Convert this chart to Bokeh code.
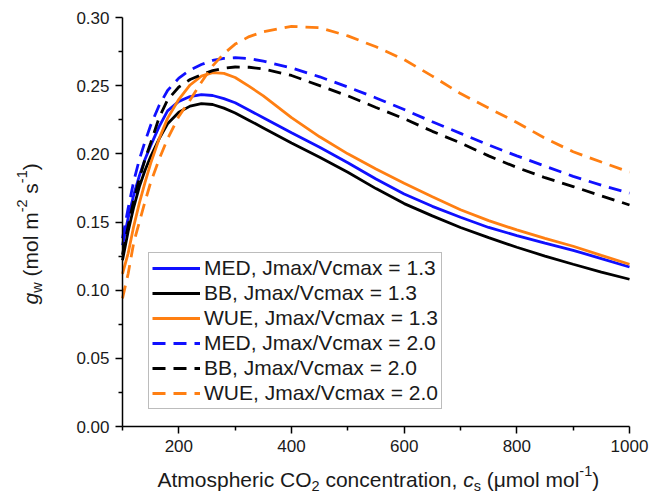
import math
from bokeh.plotting import figure
from bokeh.models import (FixedTicker, PrintfTickFormatter, Label, Legend,
                          LegendItem, Range1d)
from bokeh.embed import file_html
from bokeh.resources import INLINE

# ---------------- data ----------------
cs = [100, 110, 120, 130, 140, 150, 165, 180, 200, 220, 240, 260, 280, 300,
      325, 350, 400, 450, 500, 550, 600, 650, 700, 750, 800, 850, 900, 950, 1000]

med_13 = [0.133, 0.153, 0.170, 0.184, 0.196, 0.206, 0.220, 0.2315, 0.2385, 0.2420,
          0.2434, 0.2428, 0.2405, 0.2375, 0.2320, 0.2265, 0.2155, 0.2048, 0.1935,
          0.1815, 0.1705, 0.1615, 0.1535, 0.1460, 0.1400, 0.1345, 0.1292, 0.1232, 0.1170]
bb_13 = [0.122, 0.143, 0.161, 0.176, 0.188, 0.198, 0.211, 0.222, 0.2305, 0.2350,
         0.2368, 0.2362, 0.2335, 0.2300, 0.2245, 0.2190, 0.2080, 0.1975, 0.1865,
         0.1745, 0.1635, 0.1545, 0.1460, 0.1385, 0.1315, 0.1250, 0.1190, 0.1133, 0.1080]
wue_13 = [0.112, 0.127, 0.147, 0.164, 0.179, 0.193, 0.211, 0.226, 0.240, 0.2505,
          0.2570, 0.2596, 0.2590, 0.2560, 0.2495, 0.2425, 0.2265, 0.2125, 0.2000,
          0.1888, 0.1785, 0.1685, 0.1590, 0.1510, 0.1442, 0.1380, 0.1322, 0.1255, 0.1190]
med_20 = [0.138, 0.160, 0.180, 0.196, 0.209, 0.221, 0.2355, 0.2465, 0.2555, 0.2615,
          0.2655, 0.2685, 0.2700, 0.2705, 0.2698, 0.2680, 0.2630, 0.2565, 0.2490,
          0.2410, 0.2325, 0.2235, 0.2150, 0.2065, 0.1985, 0.1910, 0.1835, 0.1770, 0.1712]
bb_20 = [0.126, 0.147, 0.166, 0.182, 0.196, 0.208, 0.2265, 0.2395, 0.2490, 0.2545,
         0.2580, 0.2610, 0.2628, 0.2637, 0.2635, 0.2622, 0.2575, 0.2500, 0.2425,
         0.2340, 0.2258, 0.2165, 0.2080, 0.1985, 0.1900, 0.1825, 0.1760, 0.1692, 0.1625]
wue_20 = [0.094, 0.112, 0.135, 0.150, 0.165, 0.179, 0.196, 0.211, 0.2275, 0.2395,
          0.2525, 0.2645, 0.2735, 0.2805, 0.2860, 0.2895, 0.2935, 0.2925, 0.2865,
          0.2785, 0.2691, 0.2570, 0.2442, 0.2335, 0.2230, 0.2115, 0.2015, 0.1940, 0.1866]

labels = ["MED, Jmax/Vcmax = 1.3", "BB, Jmax/Vcmax = 1.3", "WUE, Jmax/Vcmax = 1.3",
          "MED, Jmax/Vcmax = 2.0", "BB, Jmax/Vcmax = 2.0", "WUE, Jmax/Vcmax = 2.0"]

x_major = [200, 400, 600, 800, 1000]
x_minor = [100, 300, 500, 700, 900]
y_major = [0.0, 0.05, 0.10, 0.15, 0.20, 0.25, 0.30]
y_minor = [0.025, 0.075, 0.125, 0.175, 0.225, 0.275]

# ---------------- layout ----------------
# The frame fills the whole canvas; the axes sit at fixed data locations so
# that axis titles (composed of several labels) stay inside the frame.
W, H = 666, 496
FL, FR, FT, FB = 122, 629, 17, 426        # pixel positions of the data box
X0, X1, Y0, Y1 = 100, 1000, 0.0, 0.30
KX = (X1 - X0) / (FR - FL)
KY = (Y1 - Y0) / (FB - FT)
FONT = "Liberation Sans"

p = figure(width=W, height=H,
           x_range=Range1d(X0 - FL * KX, X1 + (W - FR) * KX),
           y_range=Range1d(Y0 - (H - FB) * KY, Y1 + FT * KY),
           output_backend="svg", toolbar_location=None,
           min_border_left=0, min_border_right=0,
           min_border_top=0, min_border_bottom=0)
p.outline_line_color = None
p.xgrid.visible = False
p.ygrid.visible = False
p.background_fill_color = "white"
p.border_fill_color = "white"

xa, ya = p.xaxis[0], p.yaxis[0]
xa.fixed_location = Y0
xa.bounds = (X0, X1)
ya.fixed_location = X0
ya.bounds = (Y0, Y1)
for ax in (xa, ya):
    ax.axis_line_color = "black"
    ax.axis_line_width = 1.5
    ax.major_tick_line_color = "black"
    ax.minor_tick_line_color = "black"
    ax.major_tick_line_width = 1.5
    ax.minor_tick_line_width = 1.5
    ax.major_tick_in = 0
    ax.major_tick_out = 7
    ax.minor_tick_in = 0
    ax.minor_tick_out = 4
    ax.major_label_text_font = FONT
    ax.major_label_text_font_size = "17px"
    ax.major_label_text_color = "#1a1a1a"
    ax.major_label_standoff = 6

xa.ticker = FixedTicker(ticks=x_major, minor_ticks=x_minor)
ya.ticker = FixedTicker(ticks=y_major, minor_ticks=y_minor)
ya.formatter = PrintfTickFormatter(format="%.2f")

BLUE, BLACK, ORANGE = "#1010ff", "#000000", "#ff7f12"
DASH = "13 8"
series = [
    (med_13, BLUE, "solid"), (bb_13, BLACK, "solid"), (wue_13, ORANGE, "solid"),
    (med_20, BLUE, DASH), (bb_20, BLACK, DASH), (wue_20, ORANGE, DASH),
]
items = []
for (ys, col, dash), lab in zip(series, labels):
    r = p.line(cs, ys, line_color=col, line_width=2.8, line_dash=dash)
    items.append(LegendItem(label=lab, renderers=[r]))

leg = Legend(items=items, location=(148, 87))
leg.label_text_font = FONT
leg.label_text_font_size = "21px"
leg.label_text_color = "#1a1a1a"
leg.glyph_width = 48
leg.glyph_height = 20
leg.label_height = 20
leg.label_standoff = 4
leg.spacing = 1
leg.padding = 3
leg.margin = 0
leg.border_line_color = "#7a7a7a"
leg.border_line_width = 1.5
leg.background_fill_color = "white"
leg.background_fill_alpha = 1.0
p.add_layout(leg)

# ---------------- composed axis titles (sub/superscripts) ----------------
ADV = {" ": 278, "(": 333, ")": 333, "-": 333, ",": 278, "0": 556, "1": 556,
       "2": 556, "A": 667, "C": 722, "O": 778, "a": 556, "c": 500, "e": 556,
       "h": 556, "i": 222, "l": 222, "m": 833, "n": 556, "o": 556, "p": 556,
       "r": 333, "s": 500, "t": 278, "w": 722, "g": 556, "\u03bc": 576}


def twidth(t, size):
    return sum(ADV.get(ch, 556) for ch in t) * size / 1000.0


def fx(px):
    return X0 + (px - FL) * KX


def fy(py):
    return Y0 + (FB - py) * KY


def add_piece(x, y, text, size, style="normal", angle=0.0):
    p.add_layout(Label(x=x, y=y, text=text, text_font=FONT,
                       text_font_size=f"{size}px", text_font_style=style,
                       text_color="#1a1a1a", text_baseline="alphabetic",
                       text_align="left", angle=angle))


BIG, SMALL = 21, 14.5
SHIFT = 10   # renderer draws the alphabetic baseline this many px "lower"

# x-axis title: pieces of (text, size, style, baseline shift in px, + = down)
xt = [("Atmospheric CO", BIG, "normal", 0), ("2", SMALL, "normal", 6),
      (" concentration,", BIG, "normal", 0), (" c", BIG, "italic", 0),
      ("s", SMALL, "normal", 6), (" (\u03bcmol mol", BIG, "normal", 0),
      ("-1", SMALL, "normal", -9), (")", BIG, "normal", 0)]
cx, base_y = 157.0, 489.0 - SHIFT
for t, s, st, d in xt:
    lead = len(t) - len(t.lstrip(" "))
    cx += twidth(" " * lead, s)
    t = t.lstrip(" ")
    add_piece(fx(cx), fy(base_y + d), t, s, st)
    cx += twidth(t, s)

# y-axis title, rotated (reads bottom to top)
yt = [("g", BIG, "italic", 0), ("w", SMALL, "normal", 6),
      (" (mol m", BIG, "normal", 0), ("-2", SMALL, "normal", -9),
      (" s", BIG, "normal", 0), ("-1", SMALL, "normal", -9),
      (")", BIG, "normal", 0)]
cy, base_x = 304.0, 40.0 - SHIFT
for t, s, st, d in yt:
    lead = len(t) - len(t.lstrip(" "))
    cy -= twidth(" " * lead, s)
    t = t.lstrip(" ")
    add_piece(fx(base_x + d), fy(cy), t, s, st, angle=math.pi / 2)
    cy -= twidth(t, s)

open("out.html", "w").write(file_html(p, INLINE))
